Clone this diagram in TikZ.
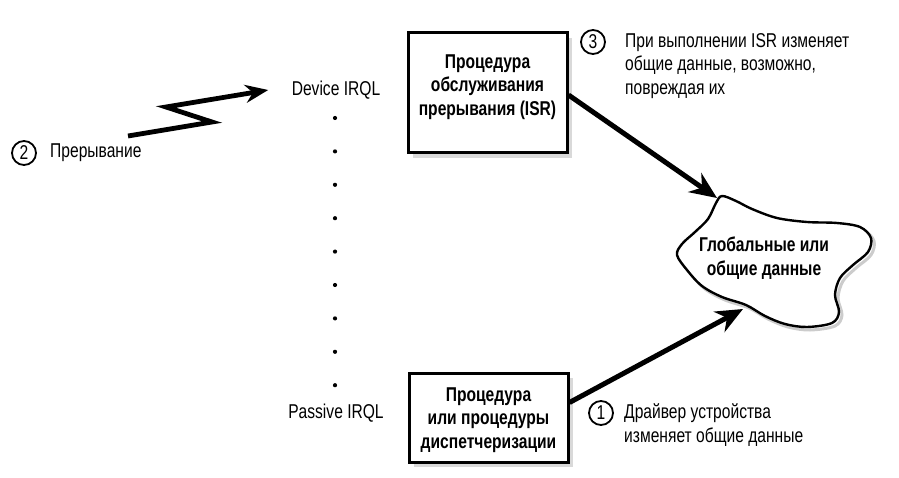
\documentclass[tikz,border=0pt]{standalone}
\usepackage{fontspec}
\setmainfont[FakeStretch=0.78]{Liberation Sans}
\usetikzlibrary{arrows.meta}
\tikzstyle{procbox} = [rectangle, draw, line width=3pt, fill=white, minimum width=159pt, preaction={fill=black!15, transform canvas={shift={(5pt,-5pt)}}}]
\tikzstyle{boxtext} = [font=\fontsize{20}{23.5}\selectfont\bfseries, align=center]
\tikzstyle{note} = [font=\fontsize{20}{23.5}\selectfont, align=left, anchor=west, inner sep=0pt]
\tikzstyle{level} = [font=\fontsize{20}{23.5}\selectfont]
\tikzstyle{num} = [circle, draw, line width=1.8pt, minimum size=24pt, inner sep=0pt, font=\fontsize{20}{20}\selectfont]
\tikzstyle{arrow} = [line width=5pt, -{Stealth[length=27pt,width=23pt]}]
\tikzstyle{zap} = [line width=4.8pt, line join=miter, -{Stealth[length=23pt,width=18pt]}]
\tikzstyle{cloudline} = [line width=2.4pt, fill=white, preaction={draw=black!20, line width=3pt, transform canvas={shift={(3pt,-3pt)}}}]
\begin{document}
\begin{tikzpicture}[x=1pt, y=-1pt]
\useasboundingbox (0,0) rectangle (899,478);
\node [level] at (336,90) (devirql) {Device IRQL};
\node [level] at (336,413) (passirql) {Passive IRQL};
\foreach \i in {0,...,8}
	\fill (335,{118+\i*33.4}) circle (2.1pt);
\node [procbox, minimum height=120pt] at (487.5,93) (isr) {};
\node [boxtext] at (487.5,87) (isrtext) {Процедура\\обслуживания\\прерывания (ISR)};
\node [procbox, minimum height=89pt] at (488.5,417.5) (dpc) {};
\node [boxtext] at (488.5,420) (dpctext) {Процедура\\или процедуры\\диспетчеризации};
\draw [cloudline] plot [smooth cycle, tension=0.55] coordinates {
	(722,196) (736,201) (752,209) (777,218) (807,222) (837,223) (860,227)
	(871,238) (868,252) (853,265) (840,278) (835,295) (839,312) (832,323)
	(807,327) (785,324) (765,316) (746,305) (722,297) (702,286) (687,270)
	(677,255) (682,244) (695,232) (708,219) (716,203)};
\node [boxtext] at (764,258) (shared) {Глобальные или\\общие данные};
\coordinate (cloudtop) at (717,198);
\coordinate (cloudbot) at (743,309);
\draw [arrow] ([yshift=-2pt]isr.east) -- (cloudtop);
\draw [arrow] ([yshift=15pt]dpc.east) -- (cloudbot);
\coordinate (zstart) at (128,136);
\coordinate (zbend1) at (212,122);
\coordinate (zbend2) at (166,107);
\draw [zap] (zstart) -- (zbend1) -- (zbend2) -- ([xshift=-20pt]devirql.west);
\node [num] at (24,153) (num2) {2};
\node [note] at (50,153) (intr) {Прерывание};
\node [num] at (593,42) (num3) {3};
\node [note] at (625,66) (isrnote) {При выполнении ISR изменяет\\общие данные, возможно,\\повреждая их};
\node [num] at (601,413) (num1) {1};
\node [note] at (624,425) (drvnote) {Драйвер устройства\\изменяет общие данные};
\end{tikzpicture}
\end{document}
